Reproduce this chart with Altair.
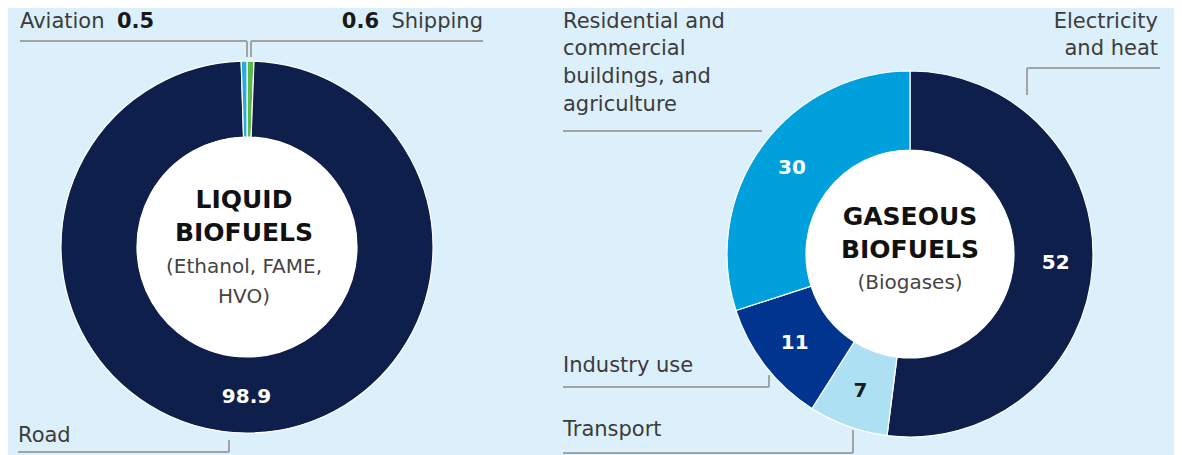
import altair as alt
import pandas as pd

# ---------------- data ----------------
liquid_categories = ["Shipping", "Road", "Aviation"]
liquid_values = [0.6, 98.9, 0.5]

gas_categories = ["Electricity and heat", "Transport", "Industry use",
                  "Residential and commercial buildings, and agriculture"]
gas_values = [52, 7, 11, 30]

liquid_title = ["LIQUID", "BIOFUELS"]
liquid_subtitle = ["(Ethanol, FAME,", "HVO)"]
gas_title = ["GASEOUS", "BIOFUELS"]
gas_subtitle = ["(Biogases)"]

# ---------------- styles / layout ----------------
FONT = "DejaVu Sans"
BG = "#dcf0fb"
NAVY = "#0f1f4b"
colors = {
    "Shipping": "#5cb848",
    "Road": NAVY,
    "Aviation": "#29abe2",
    "Electricity and heat": NAVY,
    "Transport": "#ade0f3",
    "Industry use": "#00348f",
    "Residential and commercial buildings, and agriculture": "#00a0dc",
}
W, H = 1166, 447
OFF = 8  # page margin: image coords -> chart coords


def P(v):
    return v - OFF


L_CX, L_CY, L_RO, L_RI = P(247), P(247), 186, 110
G_CX, G_CY, G_RO, G_RI = P(910), P(254), 183, 104

liq = pd.DataFrame({"cat": liquid_categories, "value": liquid_values,
                    "order": list(range(len(liquid_categories)))})
liq["label"] = [f"{v:g}" if v > 5 else "" for v in liquid_values]
gas = pd.DataFrame({"cat": gas_categories, "value": gas_values,
                    "order": list(range(len(gas_categories)))})
gas["label"] = [f"{v:g}" for v in gas_values]

color_scale = alt.Scale(domain=list(colors.keys()), range=list(colors.values()))


def donut(df, cx, cy, ro, ri, label_r):
    base = alt.Chart(df).encode(
        theta=alt.Theta("value:Q", stack=True),
        order=alt.Order("order:Q"),
        x=alt.value(cx),
        y=alt.value(cy),
    )
    arcs = base.mark_arc(outerRadius=ro, innerRadius=ri, stroke="white",
                         strokeWidth=1.2).encode(
        color=alt.Color("cat:N", scale=color_scale, legend=None))
    hole = alt.Chart(df.head(1)).mark_arc(outerRadius=ri, innerRadius=0,
                                          color="white").encode(
        theta=alt.value(0), theta2=alt.value(6.2832),
        x=alt.value(cx), y=alt.value(cy))
    txt = base.mark_text(radius=label_r, font=FONT, fontSize=20,
                         fontWeight="bold", baseline="middle").encode(
        text="label:N",
        color=alt.condition(alt.datum.cat == "Transport",
                            alt.value("#1a1a1a"), alt.value("white")))
    return [arcs, hole, txt]


def text_layer(rows, **kw):
    df = pd.DataFrame(rows, columns=["x", "y", "t"])
    df["x"] = df["x"].map(P)
    df["y"] = df["y"].map(P)
    return alt.Chart(df).mark_text(font=FONT, baseline="middle", **kw).encode(
        x=alt.X("x:Q", scale=None), y=alt.Y("y:Q", scale=None), text="t:N")


lab_col = "#3c3c3c"
val_col = "#1a1a1a"

labels_left = text_layer([
    (20, 22, liquid_categories[2]),
    (18, 436, liquid_categories[1]),
    (563, 22, "Residential and"),
    (563, 49, "commercial"),
    (563, 77, "buildings, and"),
    (563, 105, "agriculture"),
    (563, 366, gas_categories[2]),
    (563, 430, gas_categories[1]),
], align="left", fontSize=21, color=lab_col)

labels_right = text_layer([
    (483, 22, liquid_categories[0]),
    (1158, 22, "Electricity"),
    (1158, 49, "and heat"),
], align="right", fontSize=21, color=lab_col)

values_bold_left = text_layer([
    (117, 22, f"{liquid_values[2]:g}"),
], align="left", fontSize=21, fontWeight="bold", color=val_col)
values_bold_right = text_layer([
    (379, 22, f"{liquid_values[0]:g}"),
], align="right", fontSize=21, fontWeight="bold", color=val_col)

titles = text_layer([
    (244, 200, liquid_title[0]), (244, 233, liquid_title[1]),
    (910, 217, gas_title[0]), (910, 250, gas_title[1]),
], align="center", fontSize=25, fontWeight="bold", color="#111111")
subtitles = text_layer([
    (244, 267, liquid_subtitle[0]), (244, 297, liquid_subtitle[1]),
    (910, 283, gas_subtitle[0]),
], align="center", fontSize=20, color="#444444")

seg = pd.DataFrame([
    (20, 41, 247, 41), (247, 41, 247, 57),
    (251, 41, 483, 41), (251, 41, 251, 57),
    (18, 452, 229, 452), (229, 440, 229, 452),
    (563, 131, 762, 131),
    (1027, 68, 1160, 68), (1027, 68, 1027, 95),
    (563, 387, 769, 387), (769, 375, 769, 387),
    (563, 453, 853, 453), (853, 430, 853, 453),
], columns=["x", "y", "x2", "y2"]).apply(lambda c: c.map(P))
leaders = alt.Chart(seg).mark_rule(color="#a3a3a3", strokeWidth=2).encode(
    x=alt.X("x:Q", scale=None), y=alt.Y("y:Q", scale=None),
    x2="x2:Q", y2="y2:Q")

layers = (donut(liq, L_CX, L_CY, L_RO, L_RI, 150)
          + donut(gas, G_CX, G_CY, G_RO, G_RI, 146)
          + [leaders, labels_left, labels_right, values_bold_left,
             values_bold_right, titles, subtitles])

chart = alt.layer(*layers).properties(
    width=W, height=H, padding=0,
    autosize=alt.AutoSizeParams(type="none"),
).configure(background=BG).configure_view(stroke=None, strokeWidth=0)

chart.save("out.html", embed_options={"renderer": "svg", "actions": False})
